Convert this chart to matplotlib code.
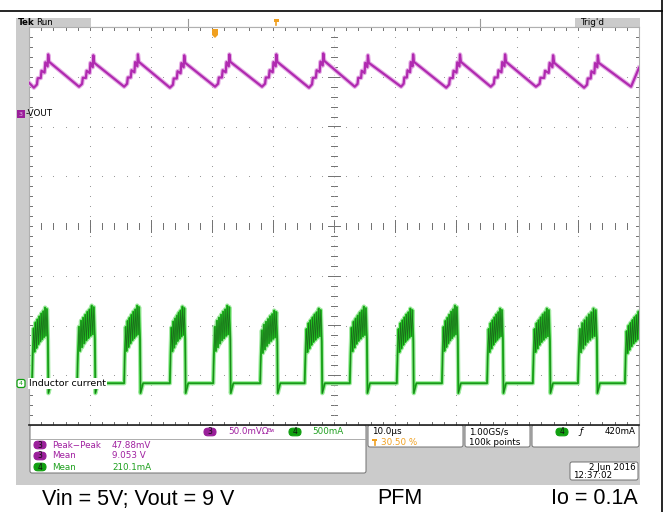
import numpy as np
import matplotlib
matplotlib.use("Agg")
import matplotlib.pyplot as plt
from matplotlib.patches import Rectangle, FancyBboxPatch, Polygon

# ---- scope settings ----
t_per_div = 10.0          # us/div
v_per_div = 50.0          # mV/div (ch3)
i_per_div = 500.0         # mA/div (ch4)
ch3_pos = 2.26            # div, VOUT marker
ch4_pos = -3.12           # div, inductor current marker

# ---- VOUT ripple (mV above ch3 marker) ----
vout_start = (0.0, 31.0)
vout_end = (100.0, 46.0)
vout_trough_t = [0.8, 8.2, 15.6, 23.1, 30.5, 38.2, 45.9, 53.4, 61.0, 68.4, 75.7, 83.1, 91.0, 98.7]
vout_trough_mv = [26, 27, 27, 26, 27, 27, 26, 27, 27, 26, 27, 27, 26, 27]
vout_peak_t = [3.3, 10.7, 18.0, 25.6, 33.0, 40.7, 48.4, 55.7, 63.1, 70.8, 78.2, 86.1, 93.4]
vout_peak_mv = [52, 51, 52, 51, 52, 52, 53, 51, 52, 52, 52, 51, 51]
# switching spikes on the rising edge: (fraction of rise, mV above ramp)
rise_f = [0.2, 0.25, 0.45, 0.5, 0.7, 0.75, 0.9, 0.94]
rise_dv = [-2, 3, -2, 4, -3, 6, -2, 9]

# ---- inductor current bursts (us) and burst peak (mA) ----
burst_on = [0.5, 7.9, 15.6, 23.1, 30.2, 37.9, 45.2, 52.6, 60.3, 67.7, 75.1, 82.6, 90.0, 97.7]
burst_off = [3.1, 10.8, 18.2, 25.6, 33.0, 40.7, 48.0, 55.4, 63.0, 70.3, 77.7, 85.4, 93.1, 100.4]
burst_peak = [740, 760, 760, 750, 760, 710, 730, 750, 730, 760, 730, 730, 730, 700]
idle_ma = -20
undershoot_ma = -120
# burst shape: (fraction of burst, fraction of burst peak)
burst_f = [0.0, 0.04, 0.10, 0.16, 0.22, 0.28, 0.34, 0.40, 0.46, 0.52, 0.58,
           0.64, 0.70, 0.76, 0.82, 0.88, 0.94]
burst_lvl = [0.0, 0.35, 0.72, 0.40, 0.80, 0.45, 0.84, 0.50, 0.88, 0.54, 0.92,
             0.57, 0.95, 0.60, 1.0, 0.62, 0.98]

# ---- readouts ----
meas_names = ["Peak\u2212Peak", "Mean", "Mean"]
meas_vals = ["47.88mV", "9.053 V", "210.1mA"]
meas_ch = ["3", "3", "4"]

MAG = "#b02ab0"
MAG_TXT = "#a020a0"
GRN = "#22c422"
GRN_TXT = "#1fa01f"
ORG = "#f0a020"
GRAY = "#cbcbcb"

W, H = 669, 512
fig = plt.figure(figsize=(W / 100, H / 100), dpi=100)
fig.patch.set_facecolor("white")

# background overlay in pixel coordinates
bg = fig.add_axes([0, 0, 1, 1], zorder=0)
bg.set_xlim(0, W)
bg.set_ylim(H, 0)
bg.axis("off")

# foreground overlay (markers drawn over the graticule)
fg = fig.add_axes([0, 0, 1, 1], zorder=2)
fg.set_xlim(0, W)
fg.set_ylim(H, 0)
fg.axis("off")
fg.patch.set_alpha(0)

bg.plot([0, 662], [11, 11], color="black", lw=1.2)
bg.plot([662, 662], [0, H], color="black", lw=1.2)
bg.add_patch(Rectangle((16, 18), 624, 467, color=GRAY, lw=0))
bg.add_patch(Rectangle((91, 18), 484, 9, color="white", lw=0))
bg.plot([91, 575], [26.5, 26.5], color="#9a9a9a", lw=0.8)
for xx in [188, 480]:
    bg.plot([xx, xx], [19, 26], color="#9a9a9a", lw=0.8)
bg.text(18, 22.5, "Tek", fontsize=6.3, fontweight="bold", va="center")
bg.text(36, 22.5, "Run", fontsize=6.3, va="center")
bg.text(580, 22.5, "Trig'd", fontsize=6.3, va="center")
bg.add_patch(Rectangle((273.5, 18.5), 5, 3, color=ORG, lw=0))
bg.plot([276, 276], [21, 25], color=ORG, lw=1.2)


def box(x0, y0, x1, y1):
    bg.add_patch(FancyBboxPatch((x0, y0), x1 - x0, y1 - y0,
                                boxstyle="round,pad=0,rounding_size=2",
                                fc="white", ec="#707070", lw=0.7))


def pill(xc, yc, label, fc, ec=None):
    bg.add_patch(FancyBboxPatch((xc - 6, yc - 3.8), 12, 7.6,
                                boxstyle="round,pad=0,rounding_size=3.8",
                                fc=fc, ec=ec or fc, lw=0.8))
    bg.text(xc, yc, label, fontsize=5.5, ha="center", va="center", color="#101010")


box(30, 425, 366, 473)
bg.plot([30, 366], [438.5, 438.5], color="#a0a0a0", lw=0.6)
box(368, 425, 463, 447)
box(465, 425, 530, 447)
box(532, 425, 639, 447)
box(570, 462, 638, 480)

pill(210, 432, "3", "#9a1f9a")
bg.text(228, 432, "50.0mV\u03a9", fontsize=6.3, color=MAG_TXT, va="center")
bg.text(268, 431, "Bw", fontsize=3.5, color=MAG_TXT, va="center")
pill(295, 432, "4", "#10a010")
bg.text(312, 432, "500mA", fontsize=6.3, color=GRN_TXT, va="center")

for k, (nm, val, ch) in enumerate(zip(meas_names, meas_vals, meas_ch)):
    yy = 445 + 11 * k
    is3 = ch == "3"
    pill(40, yy, ch, "#9a1f9a" if is3 else "#10a010")
    col = MAG_TXT if is3 else GRN_TXT
    bg.text(52, yy, nm, fontsize=6.3, color=col, va="center")
    bg.text(112, yy, val, fontsize=6.3, color=col, va="center")

bg.text(372, 432, "10.0\u00b5s", fontsize=6.3, va="center")
bg.add_patch(Rectangle((372, 439), 5, 1.5, color=ORG, lw=0))
bg.plot([374.5, 374.5], [440, 445], color=ORG, lw=1.2)
bg.text(381, 442.5, "30.50 %", fontsize=6.3, color=ORG, va="center")
bg.text(469, 432, "1.00GS/s", fontsize=6.3, va="center")
bg.text(469, 442.5, "100k points", fontsize=6.3, va="center")
pill(562, 432, "4", "#10a010")
bg.text(579, 432, "\u0192", fontsize=6.5, va="center", style="italic")
bg.text(636, 432, "420mA", fontsize=6.3, va="center", ha="right")
bg.text(636, 467, "2 Jun 2016", fontsize=6.3, va="center", ha="right")
bg.text(573, 476, "12:37:02", fontsize=6.3, va="center")

cap = dict(fontsize=15.5, family="Liberation Sans", va="center")
bg.text(42, 499, "Vin = 5V; Vout = 9 V", ha="left", **cap)
bg.text(400, 499, "PFM", ha="center", **cap)
bg.text(638, 499, "Io = 0.1A", ha="right", **cap)

# ---- graticule ----
ax = fig.add_axes([29 / W, 1 - 425 / H, 610 / W, 398 / H], zorder=1)
ax.set_xlim(0, 10)
ax.set_ylim(-4, 4)
ax.set_facecolor("white")
ax.set_xticks([])
ax.set_yticks([])
for s in ["top", "left", "right"]:
    ax.spines[s].set_color("#b0b0b0")
    ax.spines[s].set_linewidth(0.8)
ax.spines["bottom"].set_color("#202020")
ax.spines["bottom"].set_linewidth(1.2)

minor_x = np.arange(0, 10.01, 0.2)
minor_y = np.arange(-4, 4.01, 0.2)
for gy in range(-3, 4):
    ax.scatter(minor_x, np.full_like(minor_x, gy), s=0.6, color="#8c8c8c", lw=0, zorder=1)
for gx in range(1, 10):
    ax.scatter(np.full_like(minor_y, gx), minor_y, s=0.6, color="#8c8c8c", lw=0, zorder=1)

tick_kw = dict(color="#707070", lw=0.7, zorder=1)
for yy in minor_y:
    L = 0.1 if abs(yy - round(yy)) < 1e-6 else 0.05
    ax.plot([5 - L, 5 + L], [yy, yy], **tick_kw)
    ax.plot([0, 0.05], [yy, yy], **tick_kw)
    ax.plot([9.95, 10], [yy, yy], **tick_kw)
for xx in minor_x:
    L = 0.13 if abs(xx - round(xx)) < 1e-6 else 0.07
    ax.plot([xx, xx], [-L, L], **tick_kw)
    ax.plot([xx, xx], [3.93, 4], **tick_kw)
    ax.plot([xx, xx], [-4, -3.93], **tick_kw)
ax.plot([5, 5], [-4, 4], color="#b0b0b0", lw=0.5, ls=(0, (1, 6)), zorder=1)

# ---- VOUT trace ----
vt, vv = [vout_start[0]], [vout_start[1]]
for k in range(len(vout_trough_t)):
    t0, v0 = vout_trough_t[k], vout_trough_mv[k]
    vt.append(t0)
    vv.append(v0)
    if k < len(vout_peak_t):
        t1, v1 = vout_peak_t[k], vout_peak_mv[k]
        for f, dv in zip(rise_f, rise_dv):
            vt.append(t0 + f * (t1 - t0))
            vv.append(v0 + f * (v1 - v0) + dv)
        vt.append(t1)
        vv.append(v1)
vt.append(vout_end[0])
vv.append(vout_end[1])
vt = np.array(vt) / t_per_div
vv = ch3_pos + np.array(vv) / v_per_div
ax.plot(vt, vv, color="#e6b0e6", lw=3.2, zorder=3, solid_joinstyle="round")
ax.plot(vt, vv, color=MAG, lw=1.6, zorder=4)

# ---- inductor current trace ----
it, iv = [0.0], [idle_ma]
for t0, t1, pk in zip(burst_on, burst_off, burst_peak):
    it.append(t0)
    iv.append(idle_ma)
    for f, lv in zip(burst_f, burst_lvl):
        it.append(t0 + f * (t1 - t0))
        iv.append(lv * pk)
    it += [t1, t1 + 0.08, t1 + 0.5]
    iv += [0.55 * pk, undershoot_ma, idle_ma]
it = np.array(it) / t_per_div
iv = ch4_pos + np.array(iv) / i_per_div
ax.plot(it, iv, color="#a8eaa8", lw=3.2, zorder=3)
ax.plot(it, iv, color=GRN, lw=1.5, zorder=4)
ax.plot(it, iv, color="#1b6e1b", lw=0.5, zorder=5)

# channel markers and labels
fg.add_patch(Rectangle((17, 110), 8, 8, color="#9a1f9a", lw=0))
fg.text(21, 114, "3", fontsize=4.5, ha="center", va="center", color="#e8c0e8")
fg.text(26, 114, "-VOUT", fontsize=6.3, va="center")
fg.add_patch(FancyBboxPatch((17, 379.5), 8, 8, boxstyle="round,pad=0,rounding_size=2",
                            fc="white", ec="#10a010", lw=0.9))
fg.text(21, 383.5, "4", fontsize=4.5, ha="center", va="center", color="#10a010")
fg.text(29, 383.5, "Inductor current", fontsize=6.8, va="center",
        bbox=dict(fc="white", ec="none", pad=0.5))

# trigger position marker
fg.add_patch(Polygon([[212, 29], [218, 29], [218, 35], [215, 38], [212, 35]],
                     color=ORG, lw=0))

fig.savefig("out.png", dpi=100)
